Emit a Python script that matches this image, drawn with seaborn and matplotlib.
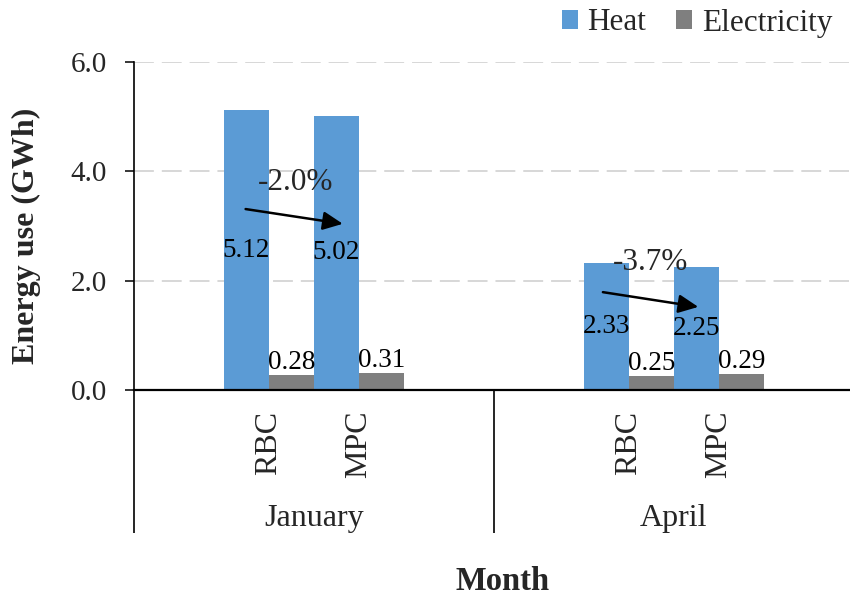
import numpy as np
import pandas as pd
import seaborn as sns
import matplotlib
matplotlib.use("Agg")
import matplotlib.pyplot as plt
from matplotlib.patches import Patch

# ---- data ----
months = ["January", "April"]
controllers = ["RBC", "MPC"]
heat = [5.12, 5.02, 2.33, 2.25]          # GWh, order: Jan RBC, Jan MPC, Apr RBC, Apr MPC
electricity = [0.28, 0.31, 0.25, 0.29]   # GWh
heat_change = ["-2.0%", "-3.7%"]         # MPC vs RBC heat change per month
y_ticks = [0.0, 2.0, 4.0, 6.0]

sources = ["Heat", "Electricity"]
colors = {"Heat": "#5B9BD5", "Electricity": "#7F7F7F"}

keys = [f"{m}|{c}" for m in months for c in controllers]
df = pd.DataFrame({
    "key": keys * 2,
    "source": ["Heat"] * 4 + ["Electricity"] * 4,
    "value": heat + electricity,
})
# two empty slots separate the months on the category axis
order = [keys[0], keys[1], "_gap1", "_gap2", keys[2], keys[3]]
tick_pos = [0, 1, 4, 5]

sns.set_theme(style="white")
plt.rcParams["font.family"] = ["Liberation Serif", "DejaVu Serif"]

W, H = 850, 599
fig = plt.figure(figsize=(W / 100, H / 100), dpi=100)
ax = fig.add_axes([134 / W, 1 - 390 / H, 720 / W, 328 / H])

sns.barplot(data=df, x="key", y="value", hue="source", order=order,
            hue_order=sources, palette=colors, width=1.0, dodge=True,
            errorbar=None, saturation=1.0, ax=ax, legend=False,
            linewidth=0, edgecolor="none")

ax.set_xlim(-1.5, 6.5)
ax.set_ylim(0, 6.0)
ax.set_xlabel("")
ax.set_ylabel("")

# value labels
heat_bars, elec_bars = ax.containers[0], ax.containers[1]
ax.bar_label(heat_bars, fmt="%.2f", label_type="center", fontsize=19.5, color="black")
ax.bar_label(elec_bars, fmt="%.2f", label_type="edge", padding=0, fontsize=19.5, color="black")

# y axis
ax.set_yticks(y_ticks)
ax.set_yticklabels([f"{v:.1f}" for v in y_ticks], fontsize=21)
ax.tick_params(axis="y", direction="out", length=6.5, width=1.1, color="black",
               pad=13, left=True)
ax.yaxis.grid(True, color="#D4D4D4", linestyle=(0, (11, 4.4)), linewidth=1.3)
ax.xaxis.grid(False)
ax.set_axisbelow(True)

# category axis: controllers, then months
ax.set_xticks(tick_pos)
ax.set_xticklabels(controllers * 2, rotation=90, fontsize=23, va="top", ha="center")
ax.tick_params(axis="x", length=0, pad=15)

for s in ["top", "right"]:
    ax.spines[s].set_visible(False)
ax.spines["left"].set_color("black")
ax.spines["left"].set_linewidth(1.2)
ax.spines["bottom"].set_color("black")
ax.spines["bottom"].set_linewidth(1.6)

xt = ax.get_xaxis_transform()
line_bottom = (390 - 533) / 328
for x in (-1.5, 2.5):
    ax.plot([x, x], [0, line_bottom], transform=xt, color="black", lw=1.2,
            clip_on=False, solid_capstyle="butt")
month_y = (390 - 526) / 328
for m, x in zip(months, (0.5, 4.5)):
    ax.text(x, month_y, m, transform=xt, ha="center", va="baseline", fontsize=23)

# heat change arrows between controllers
arrow_spec = [((-0.26, 3.31), (0.82, 3.04), (0.30, 3.79)),
              ((3.71, 1.79), (4.77, 1.52), (4.24, 2.34))]
for (tail, tip, txt), lab in zip(arrow_spec, heat_change):
    ax.annotate("", xy=tip, xytext=tail,
                arrowprops=dict(arrowstyle="-|>,head_length=0.6,head_width=0.28",
                                color="black", lw=1.8, mutation_scale=20,
                                shrinkA=0, shrinkB=0))
    ax.text(txt[0], txt[1], lab, ha="center", va="center", fontsize=22.5)

# axis titles
fig.text(26 / W, 1 - 236 / H, "Energy use (GWh)", rotation=90, ha="center",
         va="center", fontsize=23, fontweight="bold")
fig.text(503 / W, 1 - 590 / H, "Month", ha="center", va="baseline",
         fontsize=23.5, fontweight="bold")

handles = [Patch(facecolor=colors[s], edgecolor="none") for s in sources]
fig.legend(handles, sources, loc="center left", bbox_to_anchor=(562 / W, 1 - 23 / H),
           ncol=2, frameon=False, fontsize=22.5, handlelength=0.52, handleheight=0.52,
           handletextpad=0.3, columnspacing=0.95, borderpad=0, borderaxespad=0)

fig.savefig("out.png", dpi=100)
